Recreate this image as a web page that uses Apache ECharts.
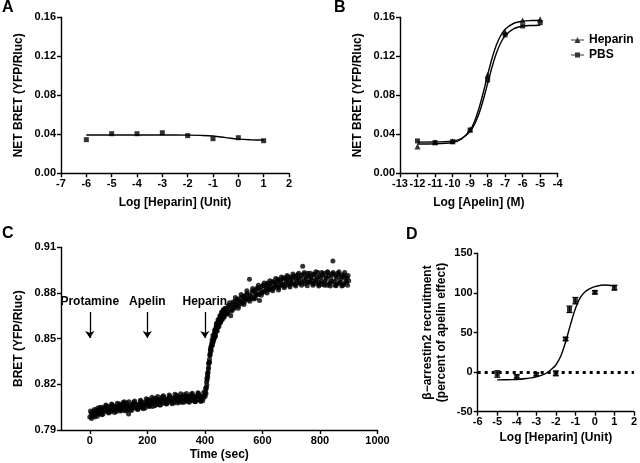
<!DOCTYPE html>
<html>
<head>
<meta charset="utf-8">
<script src="https://cdn.jsdelivr.net/npm/echarts@6/dist/echarts.min.js"></script>
<style>
html,body{margin:0;padding:0;background:#fff;}
#chart{width:640px;height:463px;}
</style>
</head>
<body>
<div id="chart"></div>
<script>
// ---------- Panel A ----------
const aX = [-6, -5, -4, -3, -2, -1, 0, 1];
const aY = [0.0345, 0.0406, 0.0406, 0.0416, 0.0386, 0.0355, 0.0365, 0.0334];
const aFitX = [-6, -5, -4, -3, -2, -1.5, -1, -0.5, 0, 0.5, 1];
const aFitY = [0.0393, 0.0393, 0.0393, 0.0393, 0.0392, 0.0389, 0.0382, 0.0366, 0.0350, 0.0343, 0.0341];

// ---------- Panel B ----------
const bX = [-12, -11, -10, -9, -8, -7, -6, -5];
const bHep = [0.0274, 0.0318, 0.0330, 0.0450, 0.1009, 0.1450, 0.1566, 0.1580];
const bPBS = [0.0332, 0.0315, 0.0325, 0.0444, 0.0957, 0.1420, 0.1511, 0.1545];
const bFitX = [-12, -11, -10, -9.5, -9, -8.75, -8.5, -8.25, -8, -7.75, -7.5, -7.25, -7, -6.5, -6, -5.5, -5];
const bFitHep = [0.0300, 0.0302, 0.0316, 0.0349, 0.0442, 0.0532, 0.0662, 0.0826, 0.1008, 0.1178, 0.1315, 0.1413, 0.1477, 0.1539, 0.1560, 0.1567, 0.1570];
const bFitPBS = [0.0320, 0.0321, 0.0332, 0.0357, 0.0429, 0.0501, 0.0608, 0.0752, 0.0920, 0.1088, 0.1232, 0.1339, 0.1411, 0.1483, 0.1508, 0.1516, 0.1519];

// ---------- Panel C ----------
const cTime = [
  0,5,10,15,20,25,30,35,40,45,50,55,60,65,70,75,80,85,90,95,
  100,105,110,115,120,125,130,135,140,145,150,155,160,165,170,175,180,185,190,195,
  200,205,210,215,220,225,230,235,240,245,250,255,260,265,270,275,280,285,290,295,
  300,305,310,315,320,325,330,335,340,345,350,355,360,365,370,375,380,385,390,395,
  400,402,404,406,408,410,412,414,416,418,420,422,424,426,428,430,432,434,436,438,
  440,442,444,446,448,450,452,454,456,458,460,462,464,466,468,470,
  475,480,485,490,495,500,505,510,515,520,525,530,535,540,545,550,555,560,565,570,
  575,580,585,590,595,600,605,610,615,620,625,630,635,640,645,650,655,660,665,670,
  675,680,685,690,695,700,705,710,715,720,725,730,735,740,745,750,755,760,765,770,
  775,780,785,790,795,800,805,810,815,820,825,830,835,840,845,850,855,860,865,870,
  875,880,885,890,895,900
];
const cBret = [
  0.7985,0.8010,0.7990,0.8025,0.8005,0.8030,0.8012,0.8038,0.8020,0.8050,0.8028,0.8042,0.8030,0.8055,0.8035,0.8048,0.8030,0.8058,0.8040,0.8052,
  0.8035,0.8062,0.8045,0.8068,0.8085,0.8045,0.8060,0.8005,0.8060,0.8048,0.8070,0.8050,0.8072,0.8055,0.8065,0.8048,0.8078,0.8060,0.8082,0.8065,
  0.8090,0.8070,0.8095,0.8075,0.8100,0.8080,0.8105,0.8085,0.8098,0.8080,0.8108,0.8088,0.8112,0.8090,0.8100,0.8085,0.8115,0.8095,0.8108,0.8090,
  0.8118,0.8098,0.8112,0.8092,0.8120,0.8100,0.8115,0.8095,0.8122,0.8102,0.8118,0.8098,0.8125,0.8105,0.8120,0.8100,0.8128,0.8108,0.8122,0.8110,
  0.8135,0.8150,0.8170,0.8215,0.8230,0.8275,0.8300,0.8340,0.8365,0.8390,0.8430,0.8420,0.8470,0.8460,0.8505,0.8490,0.8530,0.8515,0.8560,0.8545,
  0.8585,0.8565,0.8600,0.8580,0.8620,0.8600,0.8635,0.8615,0.8650,0.8625,0.8660,0.8640,0.8675,0.8650,0.8685,0.8660,
  0.8700,0.8675,0.8715,0.8650,0.8725,0.8710,0.8745,0.8720,0.8750,0.8735,0.8770,0.8745,0.8780,0.8755,0.8790,0.8765,0.8890,0.8775,0.8810,0.8760,
  0.8820,0.8790,0.8830,0.8750,0.8840,0.8805,0.8845,0.8815,0.8850,0.8825,0.8860,0.8830,0.8875,0.8835,0.8865,0.8840,0.8880,0.8850,0.8885,0.8855,
  0.8900,0.8860,0.8890,0.8865,0.8905,0.8870,0.8895,0.8860,0.8910,0.8875,0.8900,0.8865,0.8915,0.8975,0.8880,0.8905,0.8870,0.8915,0.8875,0.8900,
  0.8860,0.8920,0.8880,0.8905,0.8855,0.8910,0.8875,0.8920,0.8865,0.8905,0.8850,0.8915,0.8870,0.8925,0.9010,0.8875,0.8910,0.8860,0.8920,0.8870,
  0.8905,0.8850,0.8915,0.8875,0.8900,0.8880
];
// second, interleaved set of readings: [time (sec), BRET]
const cReadings2 = [
  [2.5,0.8025],[7.5,0.7995],[12.5,0.8010],[17.5,0.7985],[22.5,0.8022],[27.5,0.8045],[32.5,0.8005],[37.5,0.8022],[42.5,0.8000],[47.5,0.8040],
  [52.5,0.8025],[57.5,0.8058],[62.5,0.8018],[67.5,0.8045],[72.5,0.8020],[77.5,0.8065],[82.5,0.8035],[87.5,0.8050],[92.5,0.8022],[97.5,0.8048],
  [102.5,0.8070],[107.5,0.8030],[112.5,0.8055],[117.5,0.8028],[122.5,0.8060],[127.5,0.8078],[132.5,0.8035],[137.5,0.8052],[142.5,0.8030],[147.5,0.8065],
  [152.5,0.8082],[157.5,0.8045],[162.5,0.8062],[167.5,0.8038],[172.5,0.8070],[177.5,0.8090],[182.5,0.8050],[187.5,0.8068],[192.5,0.8045],[197.5,0.8075],
  [202.5,0.8100],[207.5,0.8060],[212.5,0.8080],[217.5,0.8055],[222.5,0.8085],[227.5,0.8108],[232.5,0.8068],[237.5,0.8090],[242.5,0.8065],[247.5,0.8095],
  [252.5,0.8118],[257.5,0.8075],[262.5,0.8098],[267.5,0.8072],[272.5,0.8102],[277.5,0.8122],[282.5,0.8082],[287.5,0.8105],[292.5,0.8078],[297.5,0.8110],
  [302.5,0.8128],[307.5,0.8088],[312.5,0.8110],[317.5,0.8082],[322.5,0.8115],[327.5,0.8132],[332.5,0.8090],[337.5,0.8112],[342.5,0.8085],[347.5,0.8118],
  [352.5,0.8135],[357.5,0.8092],[362.5,0.8115],[367.5,0.8088],[372.5,0.8120],[377.5,0.8140],[382.5,0.8095],[387.5,0.8118],[392.5,0.8092],[397.5,0.8125],
  [401,0.8120],[403,0.8175],[405,0.8180],[407,0.8240],[409,0.8265],[411,0.8280],[413,0.8335],[415,0.8345],[417,0.8395],[419,0.8405],
  [421,0.8445],[423,0.8455],[425,0.8490],[427,0.8475],[429,0.8480],[431,0.8520],[433,0.8505],[435,0.8540],[437,0.8530],[439,0.8575],
  [441,0.8560],[443,0.8575],[445,0.8610],[447,0.8595],[449,0.8605],[451,0.8625],[453,0.8605],[455,0.8640],[457,0.8660],[459,0.8640],
  [461,0.8675],[463,0.8655],[465,0.8665],[467,0.8690],[469,0.8675],
  [472.5,0.8690],[477.5,0.8665],[482.5,0.8720],[487.5,0.8695],[492.5,0.8680],[497.5,0.8740],
  [502.5,0.8700],[507.5,0.8725],[512.5,0.8760],[517.5,0.8715],[522.5,0.8745],[527.5,0.8730],[532.5,0.8775],[537.5,0.8740],[542.5,0.8765],[547.5,0.8800],
  [552.5,0.8755],[557.5,0.8785],[562.5,0.8765],[567.5,0.8815],[572.5,0.8780],[577.5,0.8800],[582.5,0.8835],[587.5,0.8790],[592.5,0.8820],[597.5,0.8800],
  [602.5,0.8850],[607.5,0.8810],[612.5,0.8835],[617.5,0.8865],[622.5,0.8820],[627.5,0.8845],[632.5,0.8825],[637.5,0.8870],[642.5,0.8845],[647.5,0.8855],
  [652.5,0.8890],[657.5,0.8835],[662.5,0.8870],[667.5,0.8850],[672.5,0.8895],[677.5,0.8845],[682.5,0.8880],[687.5,0.8905],[692.5,0.8850],[697.5,0.8885],
  [702.5,0.8860],[707.5,0.8910],[712.5,0.8855],[717.5,0.8890],[722.5,0.8920],[727.5,0.8865],[732.5,0.8895],[737.5,0.8870],[742.5,0.8925],[747.5,0.8860],
  [752.5,0.8895],[757.5,0.8930],[762.5,0.8870],[767.5,0.8905],[772.5,0.8880],[777.5,0.8925],[782.5,0.8865],[787.5,0.8890],[792.5,0.8935],[797.5,0.8870],
  [802.5,0.8900],[807.5,0.8855],[812.5,0.8930],[817.5,0.8880],[822.5,0.8895],[827.5,0.8935],[832.5,0.8860],[837.5,0.8900],[842.5,0.8875],[847.5,0.8925],
  [852.5,0.8850],[857.5,0.8895],[862.5,0.8930],[867.5,0.8865],[872.5,0.8890],[877.5,0.8920],[882.5,0.8860],[887.5,0.8900],[892.5,0.8870],[897.5,0.8915]
];
// third set: readings at the edges of the scatter band
const cReadings3 = [
  [6,0.7975],[16,0.8035],[26,0.7990],[36,0.8050],[46,0.8005],[56,0.8065],[66,0.8012],[76,0.8070],[86,0.8015],[96,0.8075],
  [106,0.8025],[116,0.8080],[126,0.8025],[136,0.8085],[146,0.8030],[156,0.8090],[166,0.8035],[176,0.8095],[186,0.8040],[196,0.8105],
  [206,0.8055],[216,0.8115],[226,0.8060],[236,0.8120],[246,0.8065],[256,0.8125],[266,0.8070],[276,0.8130],[286,0.8072],[296,0.8135],
  [306,0.8078],[316,0.8138],[326,0.8080],[336,0.8140],[346,0.8082],[356,0.8142],[366,0.8085],[376,0.8145],[386,0.8088],[396,0.8148],
  [404,0.8140],[407,0.8195],[410,0.8250],[413,0.8310],[416,0.8345],[419,0.8425],[422,0.8445],[425,0.8455],[428,0.8520],[431,0.8500],
  [434,0.8555],[437,0.8515],[440,0.8600],[443,0.8550],[446,0.8625],[449,0.8580],[452,0.8650],[455,0.8610],[458,0.8675],[461,0.8625],
  [464,0.8690],[467,0.8640],[470,0.8700],
  [476,0.8660],[486,0.8735],[496,0.8690],[506,0.8770],[516,0.8700],[526,0.8790],[536,0.8725],[546,0.8815],[556,0.8745],[566,0.8830],
  [576,0.8765],[586,0.8850],[596,0.8785],[606,0.8865],[616,0.8800],[626,0.8880],[636,0.8815],[646,0.8895],[656,0.8820],[666,0.8905],
  [676,0.8835],[686,0.8915],[696,0.8840],[706,0.8925],[716,0.8845],[726,0.8930],[736,0.8850],[746,0.8935],[756,0.8848],[766,0.8930],
  [776,0.8850],[786,0.8940],[796,0.8845],[806,0.8935],[816,0.8850],[826,0.8940],[836,0.8845],[846,0.8935],[856,0.8848],[866,0.8940],
  [876,0.8845],[886,0.8935],[896,0.8850]
];
const cYTicks = [0.79, 0.82, 0.85, 0.88, 0.91];
const cXTicks = [0, 200, 400, 600, 800, 1000];
const cEvents = ['Protamine', 'Apelin', 'Heparin'];
const cEventTimes = [0, 200, 400];

// ---------- Panel D ----------
const dX = [-5, -4, -3, -2, -1.5, -1.3, -1, 0, 1];
const dY = [-2.4, -5.4, -2.8, -1.6, 41.8, 79.3, 90.2, 100.7, 106.6];
const dErr = [4, 2, 2, 3, 2, 4, 4, 2, 3];
const dFitX = [-5, -4.5, -4, -3.5, -3, -2.5, -2.25, -2, -1.75, -1.5, -1.25, -1, -0.75, -0.5, -0.25, 0, 0.5, 1];
const dFitY = [-9.8, -9.6, -9.3, -8.0, -6.0, -1.5, 3.0, 9.0, 20.0, 38.0, 60.0, 80.0, 94.0, 101.5, 105.5, 108.0, 110.0, 108.5];

// ---------- Styling ----------
const FONT = "'Liberation Sans', Arial, sans-serif";
const axisCommon = {
  axisLine: { show: true, onZero: false, lineStyle: { color: '#000', width: 1.4 } },
  axisTick: { show: true, inside: false, length: 4, lineStyle: { color: '#000', width: 1.4 } },
  splitLine: { show: false },
  axisLabel: { color: '#000', fontWeight: 'bold', fontSize: 11, fontFamily: FONT, margin: 5 },
  nameTextStyle: { color: '#000', fontWeight: 'bold', fontSize: 12, fontFamily: FONT },
  nameLocation: 'middle'
};
function ax(extra) {
  const o = JSON.parse(JSON.stringify(axisCommon));
  for (const k in extra) {
    if (typeof extra[k] === 'object' && !Array.isArray(extra[k]) && o[k]) Object.assign(o[k], extra[k]);
    else o[k] = extra[k];
  }
  return o;
}
const fix2 = v => v.toFixed(2);
const plain = v => String(v);

function zip(xs, ys) { return xs.map((x, i) => [x, ys[i]]); }

function errRender(params, api) {
  const x = api.value(0), lo = api.value(1), hi = api.value(2);
  const p1 = api.coord([x, lo]), p2 = api.coord([x, hi]);
  const w = 3;
  const st = { stroke: '#000', lineWidth: 1.3 };
  return {
    type: 'group', children: [
      { type: 'line', shape: { x1: p1[0], y1: p1[1], x2: p2[0], y2: p2[1] }, style: st },
      { type: 'line', shape: { x1: p1[0] - w, y1: p1[1], x2: p1[0] + w, y2: p1[1] }, style: st },
      { type: 'line', shape: { x1: p2[0] - w, y1: p2[1], x2: p2[0] + w, y2: p2[1] }, style: st }
    ]
  };
}

const chart = echarts.init(document.getElementById('chart'), null, { renderer: 'canvas' });

const cScatterStyle = { type: 'scatter', xAxisIndex: 2, yAxisIndex: 2, symbol: 'circle', symbolSize: 5,
  itemStyle: { color: '#000' }, silent: true };

const option = {
  animation: false,
  backgroundColor: '#fff',
  textStyle: { fontFamily: FONT },
  grid: [
    { left: 61, top: 17.3, width: 228, height: 156 },
    { left: 400, top: 17.3, width: 157.7, height: 156 },
    { left: 61, top: 247.3, width: 316.5, height: 182.7 },
    { left: 477.7, top: 253.3, width: 159.3, height: 158.4 }
  ],
  xAxis: [
    ax({ gridIndex: 0, type: 'value', min: -7, max: 2, interval: 1, name: 'Log [Heparin] (Unit)', nameGap: 23 }),
    ax({ gridIndex: 1, type: 'value', min: -13, max: -4, interval: 1, name: 'Log [Apelin] (M)', nameGap: 23 }),
    ax({ gridIndex: 2, type: 'value', min: -100, max: 1000, name: 'Time (sec)', nameGap: 19,
         axisTick: { customValues: cXTicks }, axisLabel: { customValues: cXTicks, formatter: plain } }),
    ax({ gridIndex: 3, type: 'value', min: -6, max: 2, interval: 1, name: 'Log [Heparin] (Unit)', nameGap: 20 })
  ],
  yAxis: [
    ax({ gridIndex: 0, type: 'value', min: 0, max: 0.16, interval: 0.04, name: 'NET BRET (YFP/Rluc)', nameGap: 36,
         axisLabel: { formatter: fix2 } }),
    ax({ gridIndex: 1, type: 'value', min: 0, max: 0.16, interval: 0.04, name: 'NET BRET (YFP/Rluc)', nameGap: 36,
         axisLabel: { formatter: fix2 } }),
    ax({ gridIndex: 2, type: 'value', min: 0.79, max: 0.91, name: 'BRET (YFP/Rluc)', nameGap: 36,
         axisTick: { customValues: cYTicks }, axisLabel: { customValues: cYTicks, formatter: fix2 } }),
    ax({ gridIndex: 3, type: 'value', min: -50, max: 150, interval: 50,
         name: '\u03b2\u2212arrestin2 recruitment\n(percent of apelin effect)', nameGap: 29,
         nameTextStyle: { lineHeight: 14 } })
  ],
  legend: {
    left: 566, top: 29, orient: 'vertical', itemGap: 3, itemWidth: 13, itemHeight: 8,
    selectedMode: false,
    textStyle: { color: '#000', fontWeight: 'bold', fontSize: 12, fontFamily: FONT },
    data: [
      { name: 'Heparin', icon: 'path://M0,3.5H13V4.5H0Z M6.5,1L9.5,7H3.5Z' },
      { name: 'PBS', icon: 'path://M0,3.5H13V4.5H0Z M4,1.5H9V6.5H4Z' }
    ]
  },
  graphic: [
    { type: 'text', left: 2, top: 0, style: { text: 'A', fontSize: 16, fontWeight: 'bold', fontFamily: FONT, fill: '#000' } },
    { type: 'text', left: 334, top: 0, style: { text: 'B', fontSize: 16, fontWeight: 'bold', fontFamily: FONT, fill: '#000' } },
    { type: 'text', left: 2, top: 226, style: { text: 'C', fontSize: 16, fontWeight: 'bold', fontFamily: FONT, fill: '#000' } },
    { type: 'text', left: 406, top: 227, style: { text: 'D', fontSize: 16, fontWeight: 'bold', fontFamily: FONT, fill: '#000' } }
  ],
  series: [
    // A
    { name: 'A fit', type: 'line', xAxisIndex: 0, yAxisIndex: 0, data: zip(aFitX, aFitY), smooth: 0.4,
      showSymbol: false, lineStyle: { color: '#000', width: 1.4 }, silent: true },
    { name: 'A data', type: 'scatter', xAxisIndex: 0, yAxisIndex: 0, data: zip(aX, aY), symbol: 'rect',
      symbolSize: 5, itemStyle: { color: '#000' }, silent: true },
    // B
    { name: 'Heparin fit', type: 'line', xAxisIndex: 1, yAxisIndex: 1, data: zip(bFitX, bFitHep), smooth: 0.3,
      showSymbol: false, lineStyle: { color: '#000', width: 1.4 }, silent: true },
    { name: 'PBS fit', type: 'line', xAxisIndex: 1, yAxisIndex: 1, data: zip(bFitX, bFitPBS), smooth: 0.3,
      showSymbol: false, lineStyle: { color: '#000', width: 1.4 }, silent: true },
    { name: 'Heparin', type: 'scatter', xAxisIndex: 1, yAxisIndex: 1, data: zip(bX, bHep), symbol: 'triangle',
      symbolSize: 6, itemStyle: { color: '#000' }, silent: true },
    { name: 'PBS', type: 'scatter', xAxisIndex: 1, yAxisIndex: 1, data: zip(bX, bPBS), symbol: 'rect',
      symbolSize: 5, itemStyle: { color: '#000' }, silent: true },
    // C
    Object.assign({}, cScatterStyle, { name: 'C data', data: zip(cTime, cBret),
      markLine: {
        silent: true, symbol: ['none', 'arrow'], symbolSize: 7, animation: false,
        lineStyle: { color: '#000', width: 1.3, type: 'solid' },
        label: { show: true, position: 'start', distance: 4, formatter: '{b}', color: '#000',
                 fontWeight: 'bold', fontSize: 12, fontFamily: FONT },
        emphasis: { disabled: true },
        data: cEvents.map((n, i) => [{ name: n, coord: [cEventTimes[i], 0.8675] }, { coord: [cEventTimes[i], 0.8505] }])
      } }),
    Object.assign({}, cScatterStyle, { name: 'C data 2', data: cReadings2 }),
    Object.assign({}, cScatterStyle, { name: 'C data 3', data: cReadings3 }),
    // D
    { name: 'D fit', type: 'line', xAxisIndex: 3, yAxisIndex: 3, data: zip(dFitX, dFitY), smooth: 0.4,
      showSymbol: false, lineStyle: { color: '#000', width: 1.4 }, silent: true,
      markLine: {
        silent: true, symbol: ['none', 'none'], animation: false,
        lineStyle: { color: '#000', width: 3, type: [3, 4] },
        label: { show: false }, emphasis: { disabled: true },
        data: [{ yAxis: 0 }]
      } },
    { name: 'D err', type: 'custom', xAxisIndex: 3, yAxisIndex: 3, renderItem: errRender,
      data: dX.map((x, i) => [x, dY[i] - dErr[i], dY[i] + dErr[i]]), silent: true, z: 3 },
    { name: 'D data', type: 'scatter', xAxisIndex: 3, yAxisIndex: 3, data: zip(dX, dY), symbol: 'rect',
      symbolSize: 5, itemStyle: { color: '#000' }, silent: true, z: 4 }
  ]
};
chart.setOption(option);
</script>
</body>
</html>
